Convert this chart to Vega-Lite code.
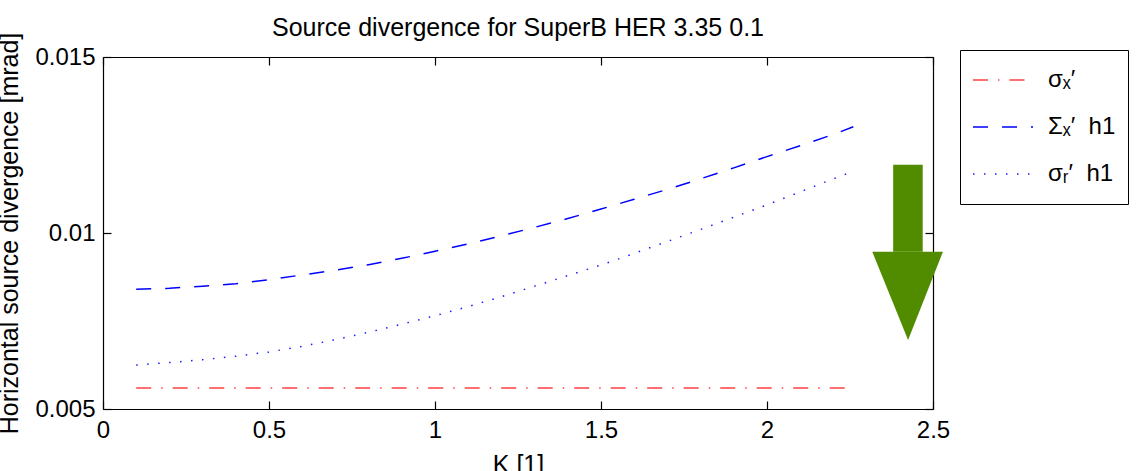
{
  "$schema": "https://vega.github.io/schema/vega-lite/v6.json",
  "width": 830,
  "height": 352,
  "autosize": {"type": "none"},
  "padding": {"left": 103, "top": 57, "right": 215, "bottom": 62},
  "background": "white",
  "config": {
    "view": {"stroke": null},
    "font": "Liberation Sans",
    "axis": {
      "grid": false,
      "domainColor": "black",
      "domainWidth": 1.2,
      "tickColor": "black",
      "tickWidth": 1.2,
      "tickSize": -8,
      "labelColor": "black",
      "labelFont": "Liberation Sans",
      "labelFontSize": 24,
      "titleColor": "black",
      "titleFont": "Liberation Sans",
      "titleFontSize": 25,
      "titleFontWeight": "normal",
      "labelOverlap": false,
      "labelBound": false,
      "labelFlush": false,
      "zindex": 1
    }
  },
  "title": {
    "text": "Source divergence for SuperB HER 3.35 0.1",
    "font": "Liberation Sans",
    "fontSize": 25,
    "fontWeight": "normal",
    "color": "black",
    "anchor": "middle",
    "offset": -9
  },
  "datasets": {
    "curves": [
      {"K": 0.1, "divergence": 0.0056, "series": "σₓ′"},
      {"K": 0.5, "divergence": 0.0056, "series": "σₓ′"},
      {"K": 1.0, "divergence": 0.0056, "series": "σₓ′"},
      {"K": 1.5, "divergence": 0.0056, "series": "σₓ′"},
      {"K": 2.0, "divergence": 0.0056, "series": "σₓ′"},
      {"K": 2.26, "divergence": 0.0056, "series": "σₓ′"},

      {"K": 0.1, "divergence": 0.00840, "series": "Σₓ′  h1"},
      {"K": 0.2, "divergence": 0.00843, "series": "Σₓ′  h1"},
      {"K": 0.3, "divergence": 0.00849, "series": "Σₓ′  h1"},
      {"K": 0.4, "divergence": 0.00856, "series": "Σₓ′  h1"},
      {"K": 0.5, "divergence": 0.00867, "series": "Σₓ′  h1"},
      {"K": 0.6, "divergence": 0.00881, "series": "Σₓ′  h1"},
      {"K": 0.7, "divergence": 0.00894, "series": "Σₓ′  h1"},
      {"K": 0.8, "divergence": 0.00910, "series": "Σₓ′  h1"},
      {"K": 0.9, "divergence": 0.00928, "series": "Σₓ′  h1"},
      {"K": 1.0, "divergence": 0.00948, "series": "Σₓ′  h1"},
      {"K": 1.1, "divergence": 0.00969, "series": "Σₓ′  h1"},
      {"K": 1.2, "divergence": 0.00992, "series": "Σₓ′  h1"},
      {"K": 1.3, "divergence": 0.01016, "series": "Σₓ′  h1"},
      {"K": 1.4, "divergence": 0.01041, "series": "Σₓ′  h1"},
      {"K": 1.5, "divergence": 0.01068, "series": "Σₓ′  h1"},
      {"K": 1.6, "divergence": 0.01096, "series": "Σₓ′  h1"},
      {"K": 1.7, "divergence": 0.01124, "series": "Σₓ′  h1"},
      {"K": 1.8, "divergence": 0.01154, "series": "Σₓ′  h1"},
      {"K": 1.9, "divergence": 0.01185, "series": "Σₓ′  h1"},
      {"K": 2.0, "divergence": 0.01217, "series": "Σₓ′  h1"},
      {"K": 2.1, "divergence": 0.01248, "series": "Σₓ′  h1"},
      {"K": 2.2, "divergence": 0.01280, "series": "Σₓ′  h1"},
      {"K": 2.26, "divergence": 0.01302, "series": "Σₓ′  h1"},

      {"K": 0.1, "divergence": 0.00625, "series": "σᵣ′  h1"},
      {"K": 0.2, "divergence": 0.00632, "series": "σᵣ′  h1"},
      {"K": 0.3, "divergence": 0.00640, "series": "σᵣ′  h1"},
      {"K": 0.4, "divergence": 0.00650, "series": "σᵣ′  h1"},
      {"K": 0.5, "divergence": 0.00662, "series": "σᵣ′  h1"},
      {"K": 0.6, "divergence": 0.00678, "series": "σᵣ′  h1"},
      {"K": 0.7, "divergence": 0.00697, "series": "σᵣ′  h1"},
      {"K": 0.8, "divergence": 0.00718, "series": "σᵣ′  h1"},
      {"K": 0.9, "divergence": 0.00741, "series": "σᵣ′  h1"},
      {"K": 1.0, "divergence": 0.00765, "series": "σᵣ′  h1"},
      {"K": 1.1, "divergence": 0.00791, "series": "σᵣ′  h1"},
      {"K": 1.2, "divergence": 0.00819, "series": "σᵣ′  h1"},
      {"K": 1.3, "divergence": 0.00849, "series": "σᵣ′  h1"},
      {"K": 1.4, "divergence": 0.00879, "series": "σᵣ′  h1"},
      {"K": 1.5, "divergence": 0.00909, "series": "σᵣ′  h1"},
      {"K": 1.6, "divergence": 0.00942, "series": "σᵣ′  h1"},
      {"K": 1.7, "divergence": 0.00976, "series": "σᵣ′  h1"},
      {"K": 1.8, "divergence": 0.01010, "series": "σᵣ′  h1"},
      {"K": 1.9, "divergence": 0.01045, "series": "σᵣ′  h1"},
      {"K": 2.0, "divergence": 0.01080, "series": "σᵣ′  h1"},
      {"K": 2.1, "divergence": 0.01117, "series": "σᵣ′  h1"},
      {"K": 2.2, "divergence": 0.01154, "series": "σᵣ′  h1"},
      {"K": 2.26, "divergence": 0.01175, "series": "σᵣ′  h1"}
    ],
    "arrowShaft": [
      {"left": 2.380, "right": 2.469, "bottom": 0.00947, "top": 0.01194}
    ],
    "arrowHead": [
      {"K": 2.317, "edge": 0.009469, "tip": 0.009469},
      {"K": 2.425, "edge": 0.009469, "tip": 0.00696},
      {"K": 2.530, "edge": 0.009469, "tip": 0.009469}
    ]
  },
  "layer": [
    {
      "data": {"name": "curves"},
      "mark": {"type": "line", "strokeWidth": 1.5, "strokeCap": "butt"},
      "encoding": {
        "x": {
          "field": "K",
          "type": "quantitative",
          "scale": {"domain": [0, 2.5], "nice": false, "zero": false},
          "axis": {
            "orient": "bottom",
            "values": [0, 0.5, 1, 1.5, 2, 2.5],
            "labelExpr": "datum.value + ''",
            "title": "K [1]",
            "labelPadding": 17,
            "titlePadding": 10
          }
        },
        "y": {
          "field": "divergence",
          "type": "quantitative",
          "scale": {"domain": [0.005, 0.015], "nice": false, "zero": false},
          "axis": {
            "orient": "left",
            "values": [0.005, 0.01, 0.015],
            "labelExpr": "datum.value + ''",
            "title": "Horizontal source divergence [mrad]",
            "labelPadding": 16,
            "titlePadding": 12
          }
        },
        "color": {
          "field": "series",
          "type": "nominal",
          "scale": {
            "domain": ["σₓ′", "Σₓ′  h1", "σᵣ′  h1"],
            "range": ["#ff4040", "#0000ff", "#1a1aff"]
          },
          "legend": {
            "orient": "none",
            "legendX": 857,
            "legendY": -7,
            "title": null,
            "fillColor": "white",
            "strokeColor": "black",
            "padding": 12,
            "symbolType": "stroke",
            "symbolSize": 3600,
            "symbolStrokeWidth": 1.5,
            "labelExpr": "replace(datum.label, '  ', '\u00a0\u00a0') + '\u00a0\u00a0'",
            "labelFont": "Liberation Sans",
            "labelFontSize": 24,
            "labelColor": "black",
            "labelOffset": 14,
            "clipHeight": 36,
            "rowPadding": 11
          }
        },
        "strokeDash": {
          "field": "series",
          "type": "nominal",
          "scale": {
            "domain": ["σₓ′", "Σₓ′  h1", "σᵣ′  h1"],
            "range": [[15, 10, 1.5, 10], [15, 14], [1.5, 9.5]]
          }
        }
      }
    },
    {
      "data": {"name": "arrowShaft"},
      "mark": {"type": "rect", "color": "#518c00"},
      "encoding": {
        "x": {
          "field": "left",
          "type": "quantitative",
          "scale": {"domain": [0, 2.5], "nice": false, "zero": false},
          "axis": {"orient": "top", "values": [0, 0.5, 1, 1.5, 2, 2.5], "labels": false, "title": null}
        },
        "x2": {"field": "right"},
        "y": {
          "field": "bottom",
          "type": "quantitative",
          "scale": {"domain": [0.005, 0.015], "nice": false, "zero": false},
          "axis": {"orient": "right", "values": [0.005, 0.01, 0.015], "labels": false, "title": null}
        },
        "y2": {"field": "top"}
      }
    },
    {
      "data": {"name": "arrowHead"},
      "mark": {"type": "area", "color": "#518c00", "opacity": 1},
      "encoding": {
        "x": {
          "field": "K",
          "type": "quantitative",
          "scale": {"domain": [0, 2.5], "nice": false, "zero": false},
          "axis": null
        },
        "y": {
          "field": "tip",
          "type": "quantitative",
          "scale": {"domain": [0.005, 0.015], "nice": false, "zero": false},
          "axis": null
        },
        "y2": {"field": "edge"}
      }
    }
  ],
  "resolve": {"axis": {"x": "independent", "y": "independent"}}
}
